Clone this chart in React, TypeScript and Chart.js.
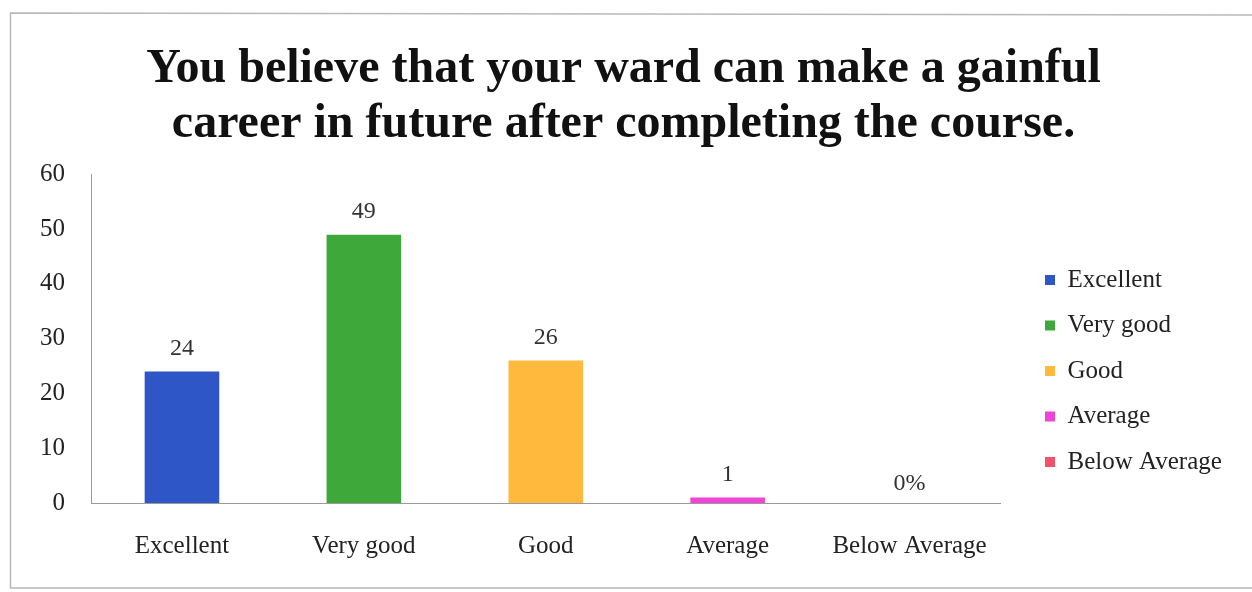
import React, { useEffect, useRef } from "react";
import { Chart, registerables } from "chart.js";

Chart.register(...registerables);

const categories = ["Excellent", "Very good", "Good", "Average", "Below Average"];
const values = [24, 49, 26, 1, 0];
const valueLabels = ["24", "49", "26", "1", "0%"];
const barColors = ["#2F56C6", "#3FA83A", "#FFBA3D", "#EE45D6", "#F2506B"];
const titleLines = [
  "You believe that your ward can make a gainful",
  "career in future after completing the course.",
];
const yMin = 0;
const yMax = 60;
const yStep = 10;

const SERIF = "'Liberation Serif', 'Times New Roman', serif";

const framePlugin = {
  id: "frame",
  beforeDraw(chart: any) {
    const { ctx, width, height } = chart;
    ctx.save();
    ctx.fillStyle = "#ffffff";
    ctx.fillRect(0, 0, width, height);
    ctx.strokeStyle = "#b8b8b8";
    ctx.lineWidth = 1.5;
    ctx.beginPath();
    ctx.moveTo(width + 5, 15);
    ctx.lineTo(10.5, 13);
    ctx.lineTo(10.5, 588);
    ctx.lineTo(width + 5, 588);
    ctx.stroke();
    ctx.restore();
  },
};

const valueLabelPlugin = {
  id: "valueLabels",
  afterDatasetsDraw(chart: any) {
    const { ctx } = chart;
    const meta = chart.getDatasetMeta(0);
    ctx.save();
    ctx.font = `24px ${SERIF}`;
    ctx.fillStyle = "#333333";
    ctx.textAlign = "center";
    ctx.textBaseline = "middle";
    meta.data.forEach((bar: any, i: number) => {
      const y = Math.min(bar.y, bar.base);
      const off = values[i] === 0 ? 19 : 23;
      ctx.fillText(valueLabels[i], bar.x, y - off);
    });
    ctx.restore();
  },
};

export default function App() {
  const ref = useRef<HTMLCanvasElement | null>(null);
  useEffect(() => {
    document.body.style.margin = "0";
    const canvas = ref.current;
    if (!canvas) return;
    const chart = new Chart(canvas, {
      type: "bar",
      data: {
        labels: categories,
        datasets: [
          {
            label: "Series",
            data: values,
            backgroundColor: barColors,
            borderWidth: 0,
            categoryPercentage: 1,
            barPercentage: 0.41,
          },
        ],
      },
      options: {
        animation: false,
        responsive: false,
        maintainAspectRatio: false,
        layout: { padding: { left: 22, right: 27, top: 0, bottom: 11 } },
        plugins: {
          title: {
            display: true,
            text: titleLines,
            color: "#111111",
            font: { family: SERIF, size: 48, weight: "bold", lineHeight: 1.15 },
            padding: { top: 42, bottom: 22 },
          },
          legend: {
            display: true,
            position: "right",
            title: {
              display: true,
              text: " ",
              font: { size: 1 },
              padding: { top: 160, bottom: 0 },
            },
            labels: {
              boxWidth: 10,
              boxHeight: 10,
              padding: 20.5,
              color: "#222222",
              font: { family: SERIF, size: 25 },
              generateLabels: () =>
                categories.map((c, i) => ({
                  text: c,
                  fillStyle: barColors[i],
                  strokeStyle: barColors[i],
                  lineWidth: 0,
                  hidden: false,
                  index: i,
                  fontColor: "#222222",
                })),
            },
            onClick: () => {},
          },
          tooltip: { enabled: false },
        },
        scales: {
          x: {
            grid: { display: false },
            border: { display: true, color: "#9a9a9a", width: 1 },
            ticks: {
              color: "#222222",
              padding: 20,
              font: { family: SERIF, size: 25 },
              maxRotation: 0,
              autoSkip: false,
            },
          },
          y: {
            min: yMin,
            max: yMax,
            grid: { display: false },
            border: { display: true, color: "#9a9a9a", width: 1 },
            ticks: {
              stepSize: yStep,
              color: "#222222",
              padding: 18,
              font: { family: SERIF, size: 25 },
            },
          },
          gap: {
            type: "linear",
            position: "right",
            min: yMin,
            max: yMax,
            grid: { display: false },
            border: { display: false },
            ticks: { display: false },
            afterFit: (scale: any) => {
              scale.width = 24;
            },
          },
        },
      },
      plugins: [framePlugin, valueLabelPlugin],
    });
    return () => chart.destroy();
  }, []);
  return (
    <div style={{ width: 1252, height: 592 }}>
      <canvas ref={ref} width={1252} height={592} style={{ display: "block" }} />
    </div>
  );
}
